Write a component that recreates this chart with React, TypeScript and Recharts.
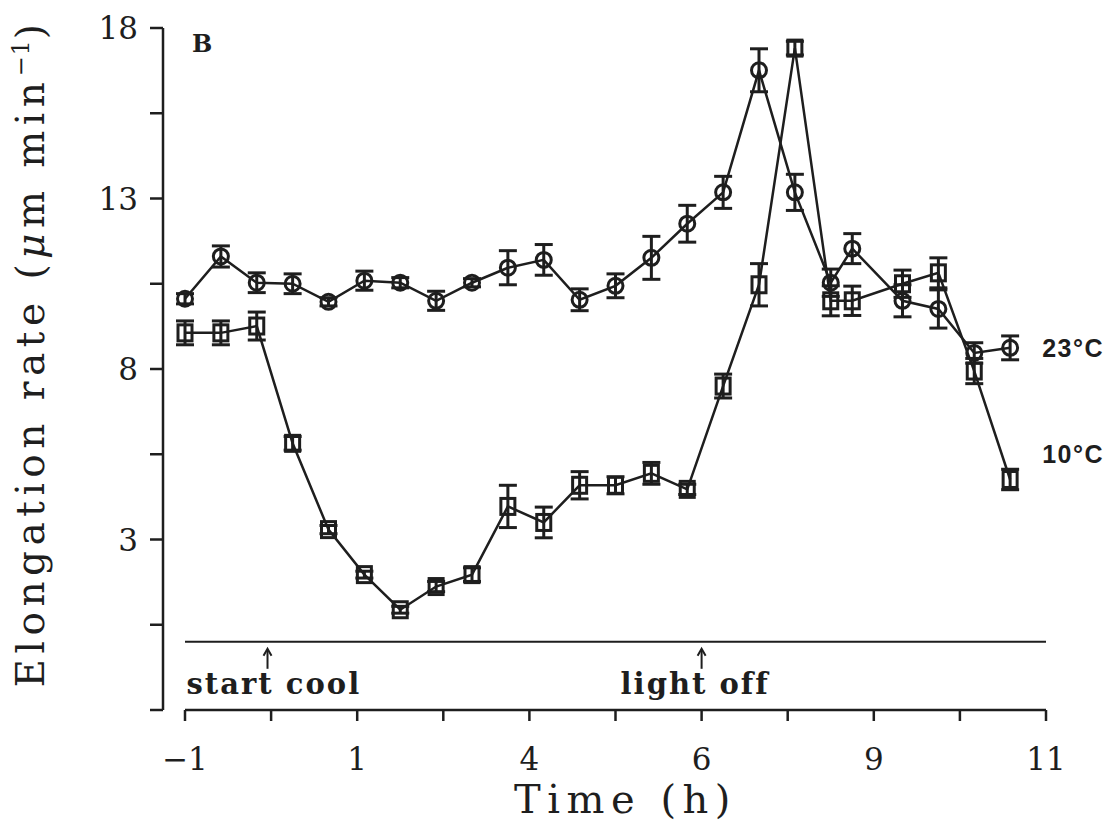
import React from "react";
import { LineChart, Line, XAxis, YAxis, ErrorBar, ReferenceLine, ReferenceDot } from "recharts";

// time after start of cooling (h)
const times = [-1, -0.5, 0, 0.5, 1, 1.5, 2, 2.5, 3, 3.5, 4, 4.5, 5, 5.5, 6, 6.5, 7, 7.5, 8, 8.3, 9, 9.5, 10, 10.5];

// 23°C (circles)
const rate23 = [10.06, 11.3, 10.53, 10.5, 9.97, 10.59, 10.53, 10.0, 10.53, 10.97, 11.2, 10.03, 10.44, 11.26, 12.26, 13.18, 16.76, 13.18, 10.53, 11.53, 10.0, 9.76, 8.47, 8.62];
const err23 = [0.15, 0.31, 0.29, 0.29, 0.12, 0.28, 0.15, 0.28, 0.12, 0.5, 0.45, 0.32, 0.35, 0.63, 0.54, 0.47, 0.63, 0.53, 0.4, 0.44, 0.47, 0.56, 0.3, 0.35];

// 10°C (squares)
const rate10 = [9.06, 9.06, 9.26, 5.82, 3.29, 1.97, 0.94, 1.62, 1.97, 3.97, 3.5, 4.59, 4.59, 4.94, 4.47, 7.5, 10.47, 17.41, 10.0, 10.0, 10.5, 10.82, 7.94, 4.76];
const err10 = [0.35, 0.35, 0.41, 0.2, 0.12, 0.1, 0.1, 0.15, 0.2, 0.62, 0.45, 0.4, 0.25, 0.32, 0.15, 0.35, 0.62, 0.2, 0.44, 0.43, 0.4, 0.44, 0.37, 0.3];

const xTicks = [-1, 0.2, 1.4, 2.6, 3.8, 5, 6.2, 7.4, 8.6, 9.8, 11];
const xTickLabels = ["−1", "", "1", "", "4", "", "6", "", "9", "", "11"];
const yTicks = [-2, 0.5, 3, 5.5, 8, 10.5, 13, 15.5, 18];
const yTickLabels = ["", "", "3", "", "8", "", "13", "", "18"];

const events = ["start cool", "light off"];
const eventTimes = [0.15, 6.2];
const seriesNames = ["23°C", "10°C"];

const INK = "#1e1e1e";
const SERIF = "'DejaVu Serif', serif";

const rows = times.map((t, i) => ({ t, r23: rate23[i], e23: err23[i], r10: rate10[i], e10: err10[i] }));
const last = times.length - 1;

const CircleDot = (p: any) =>
    p.cx == null ? null : <circle key={p.index} cx={p.cx} cy={p.cy} r={7.5} fill="none" stroke={INK} strokeWidth={3} />;

const SquareDot = (p: any) =>
    p.cx == null ? null : <rect key={p.index} x={p.cx - 7} y={p.cy - 8} width={14} height={16} fill="none" stroke={INK} strokeWidth={3} />;

// arrow under the zero line with its caption
const eventShape = (label: string) => (p: any) => (
    <g>
        <line x1={p.cx} y1={p.cy + 8} x2={p.cx} y2={p.cy + 27} stroke={INK} strokeWidth={2} />
        <path d={`M${p.cx - 4},${p.cy + 14} L${p.cx},${p.cy + 7} L${p.cx + 4},${p.cy + 14}`} fill="none" stroke={INK} strokeWidth={2} />
        <text x={p.cx - 81} y={p.cy + 52} fontFamily={SERIF} fontWeight="bold" fontSize={29} letterSpacing={2} fill={INK}>{label}</text>
    </g>
);

const seriesLabel = (label: string, dy: number) => (p: any) => (
    <text x={p.cx + 32} y={p.cy + dy} fontFamily="'Liberation Sans', Arial, sans-serif" fontWeight="bold" fontSize={25} letterSpacing={1.5} fill={INK}>{label}</text>
);

const YTitle = ({ viewBox }: any) => {
    const x = viewBox.x + 31;
    const y = viewBox.y + viewBox.height / 2 - 16;
    return (
        <text x={x} y={y} transform={`rotate(-90 ${x} ${y})`} textAnchor="middle" fontFamily={SERIF} fontSize={39} letterSpacing={5.5} fill={INK}>
            Elongation rate (<tspan fontStyle="italic">μ</tspan>m min<tspan dy={-15} fontSize={24} letterSpacing={1}>−1</tspan><tspan dy={15}>)</tspan>
        </text>
    );
};

const XTitle = ({ viewBox }: any) => (
    <text x={viewBox.x + viewBox.width / 2 + 21} y={813} textAnchor="middle" fontFamily={SERIF} fontSize={40} letterSpacing={6.5} fill={INK}>
        Time (h)
    </text>
);

export default function App() {
    return (
        <div style={{ position: "absolute", left: 0, top: 0, width: 1114, height: 826, background: "#fff" }}>
            <div style={{ position: "absolute", left: 192, top: 32, fontFamily: SERIF, fontWeight: "bold", fontSize: 24, color: INK, lineHeight: 1 }}>B</div>
            <LineChart width={1114} height={826} data={rows} margin={{ top: 28, right: 68, bottom: 16, left: 13 }}>
                <XAxis
                    type="number"
                    dataKey="t"
                    domain={[-1, 11]}
                    ticks={xTicks}
                    interval={0}
                    padding={{ left: 22, right: 0 }}
                    axisLine={false}
                    tickLine={{ stroke: INK, strokeWidth: 2.5 }}
                    tickSize={11}
                    tickMargin={27}
                    height={100}
                    tickFormatter={(v: number) => xTickLabels[xTicks.indexOf(v)] ?? ""}
                    tick={{ fontFamily: SERIF, fontSize: 31, fill: INK }}
                    label={{ content: XTitle }}
                />
                <YAxis
                    type="number"
                    domain={[-2, 18]}
                    ticks={yTicks}
                    interval={0}
                    width={150}
                    axisLine={{ stroke: INK, strokeWidth: 2.5 }}
                    tickLine={{ stroke: INK, strokeWidth: 2.5 }}
                    tickSize={13}
                    tickMargin={12}
                    tickFormatter={(v: number) => yTickLabels[yTicks.indexOf(v)] ?? ""}
                    tick={{ fontFamily: SERIF, fontSize: 31, fill: INK }}
                    label={{ content: YTitle }}
                />
                <ReferenceLine segment={[{ x: -1, y: -2 }, { x: 11, y: -2 }]} stroke={INK} strokeWidth={2.5} />
                <ReferenceLine segment={[{ x: -1, y: 0 }, { x: 11, y: 0 }]} stroke={INK} strokeWidth={2} />
                {events.map((ev, i) => (
                    <ReferenceDot key={ev} x={eventTimes[i]} y={0} shape={eventShape(ev)} />
                ))}
                <Line dataKey="r23" stroke={INK} strokeWidth={2.5} dot={CircleDot} activeDot={false} isAnimationActive={false}>
                    <ErrorBar dataKey="e23" width={9} strokeWidth={3} stroke={INK} direction="y" isAnimationActive={false} />
                </Line>
                <Line dataKey="r10" stroke={INK} strokeWidth={2.5} dot={SquareDot} activeDot={false} isAnimationActive={false}>
                    <ErrorBar dataKey="e10" width={9} strokeWidth={3} stroke={INK} direction="y" isAnimationActive={false} />
                </Line>
                <ReferenceDot x={times[last]} y={rate23[last]} shape={seriesLabel(seriesNames[0], 9)} />
                <ReferenceDot x={times[last]} y={rate10[last]} shape={seriesLabel(seriesNames[1], -16)} />
            </LineChart>
        </div>
    );
}
